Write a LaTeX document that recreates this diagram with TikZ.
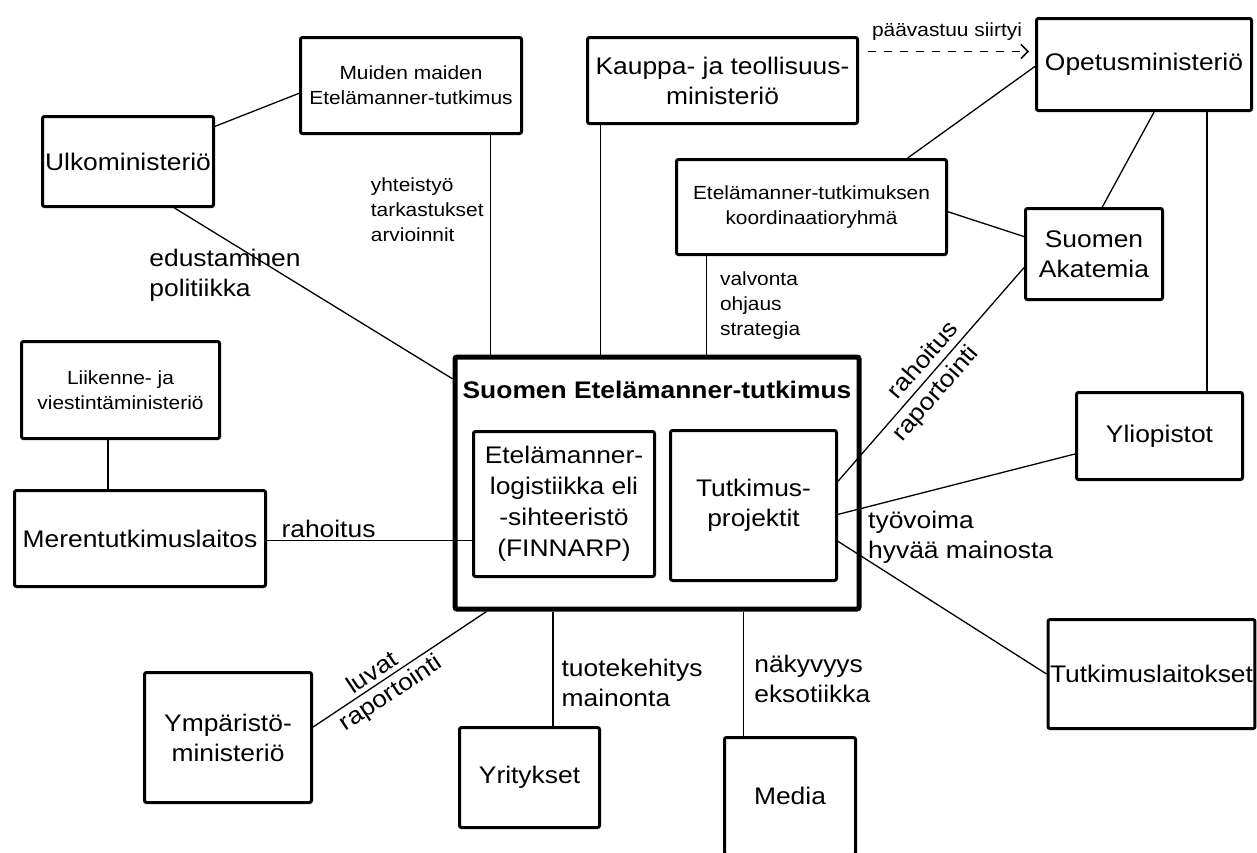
\documentclass[tikz,border=0pt]{standalone}
\usepackage{fontspec}
\setmainfont{Liberation Sans}[FakeStretch=1.1]
\usetikzlibrary{arrows.meta}
\tikzset{
  box/.style={draw, line width=3pt, rounded corners=2pt, inner sep=2pt, align=center,
    font=\fontsize{24}{30}\selectfont},
  smallbox/.style={box, font=\fontsize{19}{25}\selectfont},
  boxsize/.style 2 args={minimum width=#1pt, minimum height=#2pt},
  txt/.style={inner sep=2pt, align=left, font=\fontsize{24}{30}\selectfont},
  smalltxt/.style={txt, font=\fontsize{19}{25}\selectfont},
  link/.style={line width=1.3pt}
}

\begin{document}
\begin{tikzpicture}[x=1pt, y=-1pt]
\useasboundingbox (0,0) rectangle (1257,852);
\fill[white] (0,0) rectangle (1257,852);
% boxes round the centre
\node[box, boxsize={171}{90}] (ulko) at (128,161.5) {Ulkoministeriö};
\node[smallbox, boxsize={221}{96}] (muiden) at (411,85.5) {Muiden maiden\\Etelämanner-tutkimus};
\node[box, boxsize={270}{86}] (kauppa) at (722.5,80.5) {Kauppa- ja teollisuus-\\ministeriö};
\node[box, boxsize={215}{92}] (opetus) at (1144,64.5) {Opetusministeriö};
\node[smallbox, boxsize={270}{95}] (koord) at (811.5,207) {Etelämanner-tutkimuksen\\koordinaatioryhmä};
\node[box, boxsize={137}{91}] (akatemia) at (1094,254) {Suomen\\Akatemia};
\node[smallbox, boxsize={198}{97}] (liikenne) at (120.5,390) {Liikenne- ja\\viestintäministeriö};
\node[box, boxsize={251}{96}] (meren) at (140,538.5) {Merentutkimuslaitos};
\node[box, boxsize={166}{87}] (yliopistot) at (1159.5,436) {Yliopistot};
\node[box, boxsize={206}{109}] (laitokset) at (1151.5,674) {Tutkimuslaitokset};
\node[box, boxsize={167}{130}] (ymparisto) at (228,737.5) {Ympäristö-\\ministeriö};
\node[box, boxsize={140}{100}] (yritykset) at (529.5,777.5) {Yritykset};
\node[box, boxsize={131}{117}] (media) at (790,796) {Media};
% the centre
\node[box, line width=5pt, boxsize={404}{252}] (main) at (657,483) {};
\node[font=\fontsize{24}{30}\selectfont\bfseries] (otsikko) at (657,390) {Suomen Etelämanner-tutkimus};
\node[box, boxsize={181}{145}, font=\fontsize{24}{31}\selectfont] (logistiikka) at (564,504)
  {Etelämanner-\\logistiikka eli\\-sihteeristö\\(FINNARP)};
\node[box, boxsize={166}{150}] (projektit) at (753.5,505.5) {Tutkimus-\\projektit};
% connectors
\draw[link] (ulko.22) -- (muiden.184);
\draw[link] (ulko.-45.9) -- (main.153.2);
\node[txt] (edust) at (225,275) {edustaminen\\politiikka};
\draw[link] (muiden.-32.7) -- (muiden.-32.7 |- main.north)
  node[smalltxt, pos=0.34, left=4pt] {yhteistyö\\tarkastukset\\arvioinnit};
\draw[link] (kauppa.200.4) -- (kauppa.200.4 |- main.north);
\draw[link, line width=1.5pt, dash pattern=on 8pt off 8pt, -{Straight Barb[length=7pt,width=14pt]},
  shorten <=9pt, shorten >=6pt] (kauppa.12.6) -- (kauppa.12.6 -| opetus.west)
  node[smalltxt, midway, above=8pt] {päävastuu siirtyi};
\draw[link] (opetus.181.3) -- (koord.27.2);
\draw[link] (koord.205.5) -- (koord.205.5 |- main.north)
  node[smalltxt, pos=0.5, right=11pt] {valvonta\\ohjaus\\strategia};
\draw[link] (koord.-2.1) -- (akatemia.166.3);
\draw[link] (opetus.-78.1) -- (akatemia.80.3);
\draw[link] (opetus.-37) -- (opetus.-37 |- yliopistot.north);
\draw[link] (projektit.16.8) -- (akatemia.191.3)
  node[txt, sloped, pos=0.52, above=5pt] {rahoitus}
  node[txt, sloped, pos=0.46, below=3pt] {raportointi};
\draw[link] (projektit.-6.4) -- (yliopistot.192.7);
\draw[link] (projektit.-23.4) -- (laitokset.180.5);
\node[txt, anchor=west] (tyovoima) at (866,537.5) {työvoima\\hyvää mainosta};
\draw[link] (liikenne.256) -- (liikenne.256 |- meren.north);
\draw[link] (meren.-1.6) -- (meren.-1.6 -| logistiikka.west)
  node[txt, pos=0.3, above] {rahoitus};
\draw[link] (ymparisto.7) -- (main.217)
  node[txt, sloped, pos=0.38, above=2pt] {luvat}
  node[txt, sloped, pos=0.4, below=2pt] {raportointi};
\draw[link] (main.231.2) -- (main.231.2 |- yritykset.north)
  node[txt, pos=0.62, right=6pt] {tuotekehitys\\mainonta};
\draw[link] (main.-56.1) -- (main.-56.1 |- media.north)
  node[txt, pos=0.54, right=8pt] {näkyvyys\\eksotiikka};
\end{tikzpicture}
\end{document}
